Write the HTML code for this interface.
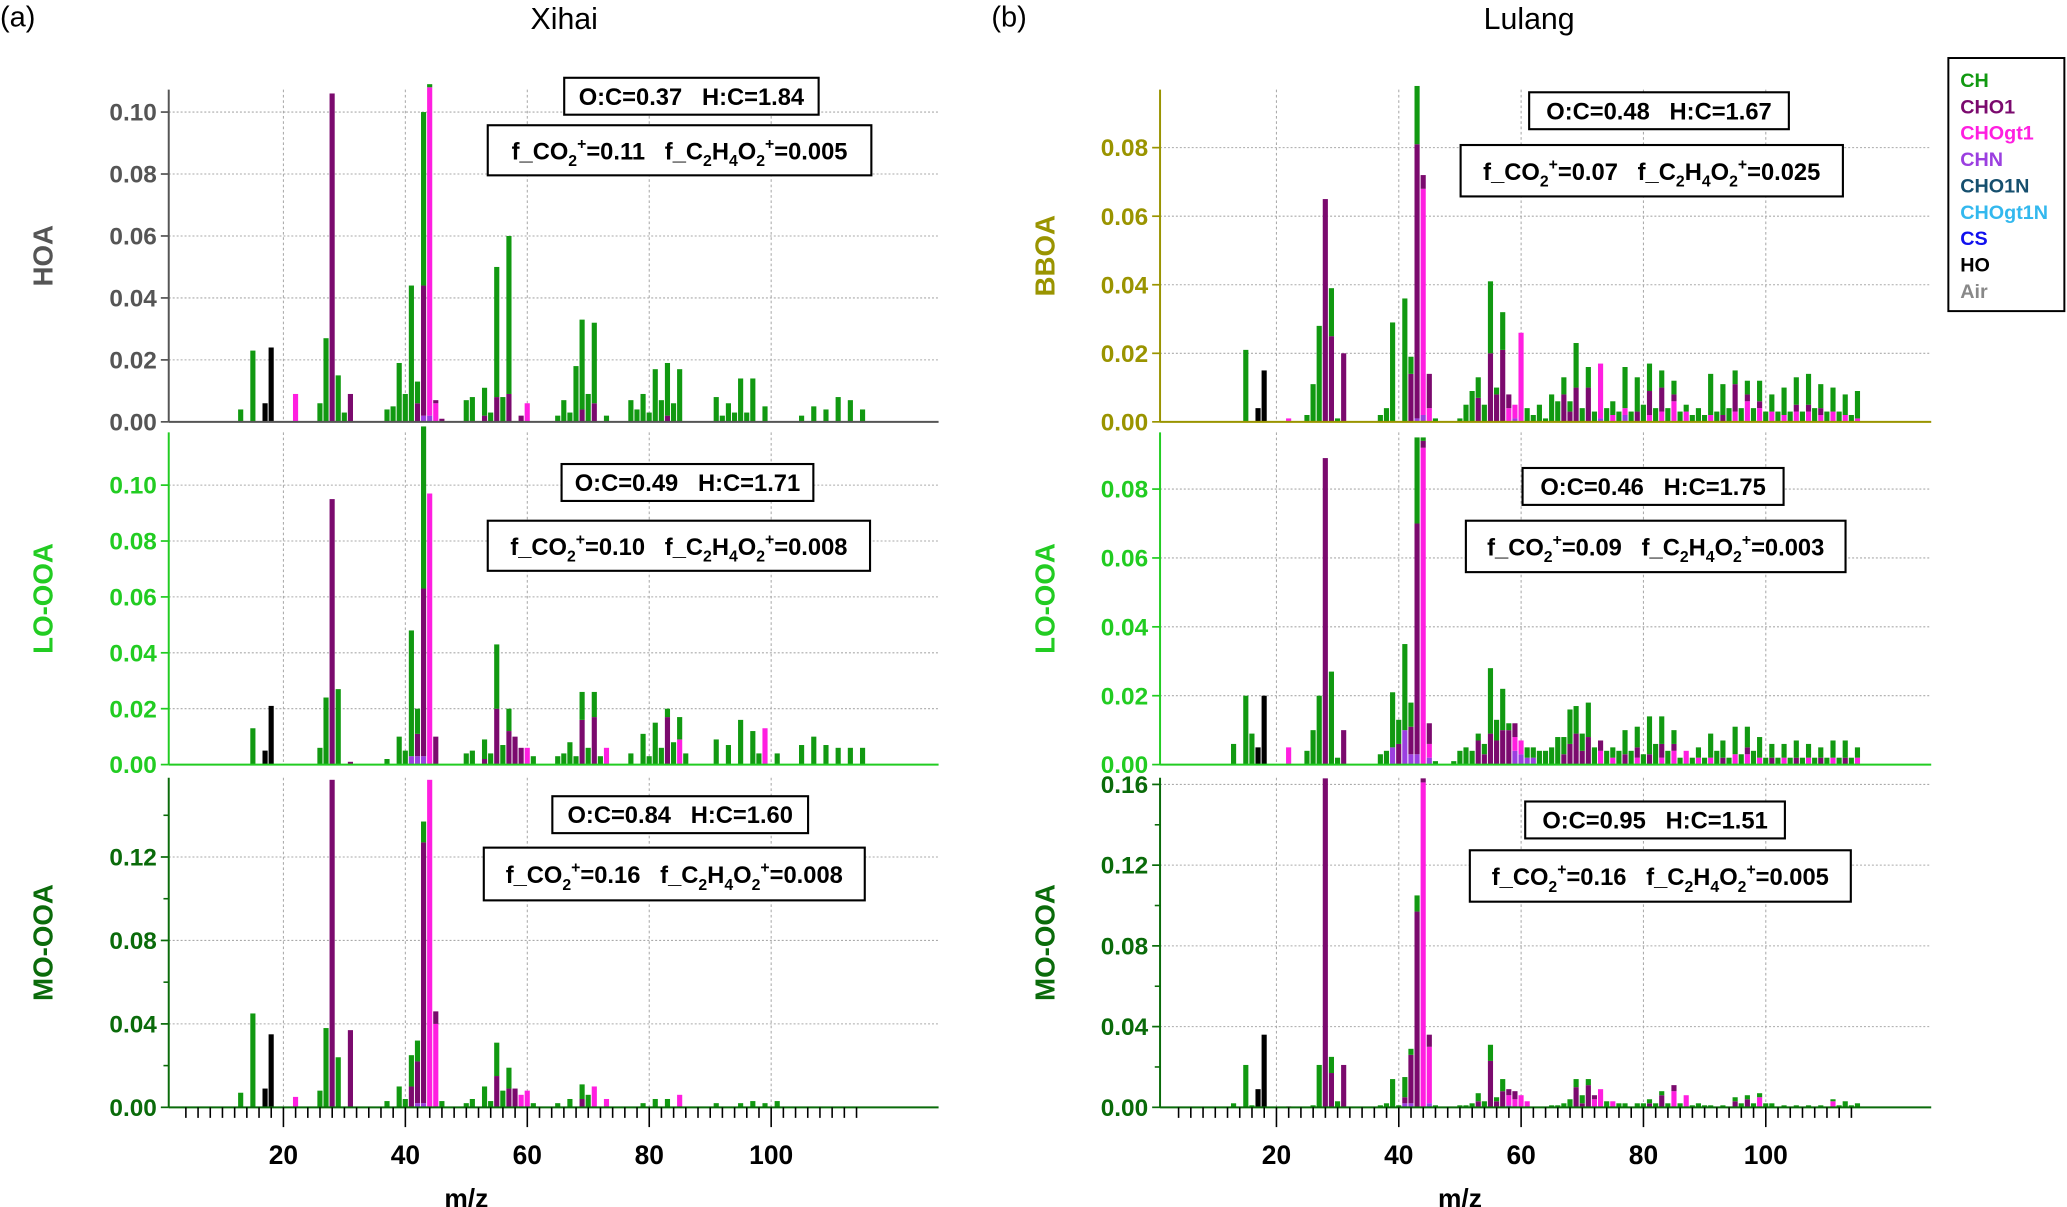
<!DOCTYPE html>
<html><head><meta charset="utf-8"><style>
html,body{margin:0;padding:0;background:#fff;}
svg{display:block;font-family:"Liberation Sans",Arial,sans-serif;}
.pre{white-space:pre;}
</style></head><body>
<svg id="fig" width="2067" height="1207" viewBox="0 0 1568 915.6" xmlns="http://www.w3.org/2000/svg">
<text x="0" y="20" font-size="22">(a)</text>
<text x="428" y="22" font-size="23" text-anchor="middle">Xihai</text>
<text x="752" y="20" font-size="22">(b)</text>
<text x="1160" y="22" font-size="23" text-anchor="middle">Lulang</text>
<g id="plots"></g>
<g>
<rect x="1478" y="44" width="88" height="192" fill="#fff" stroke="#000" stroke-width="1.5"/>
<text x="1487" y="66" font-size="15" font-weight="bold" fill="#119911">CH</text>
<text x="1487" y="86" font-size="15" font-weight="bold" fill="#7b0a6e">CHO1</text>
<text x="1487" y="106" font-size="15" font-weight="bold" fill="#ff1fe0">CHOgt1</text>
<text x="1487" y="126" font-size="15" font-weight="bold" fill="#9b3fe0">CHN</text>
<text x="1487" y="146" font-size="15" font-weight="bold" fill="#164f6e">CHO1N</text>
<text x="1487" y="166" font-size="15" font-weight="bold" fill="#33b8ee">CHOgt1N</text>
<text x="1487" y="186" font-size="15" font-weight="bold" fill="#1010ee">CS</text>
<text x="1487" y="206" font-size="15" font-weight="bold" fill="#000">HO</text>
<text x="1487" y="226" font-size="15" font-weight="bold" fill="#888">Air</text>
</g>
</svg>
<script>
// ---- Data: [m/z, fraction] per family ----
const xhHOA_CH=[[13,.004],[15,.023],[26,.006],[27,.027],[29,.015],[30,.003],[37,.004],[38,.005],[39,.019],[40,.009],[41,.044],[42,.007],[43,.056],[44,.001],[50,.007],[51,.008],[53,.009],[54,.003],[55,.042],[56,.008],[57,.051],[65,.002],[66,.007],[67,.003],[68,.018],[69,.029],[70,.009],[71,.026],[73,.002],[77,.007],[78,.004],[79,.009],[80,.003],[81,.017],[82,.007],[83,.017],[84,.006],[85,.017],[91,.008],[92,.002],[93,.006],[94,.003],[95,.014],[96,.003],[97,.014],[99,.005],[105,.002],[107,.005],[109,.004],[111,.008],[113,.007],[115,.004]];
const xhHOA_CHO1=[[28,.106],[31,.009],[42,.006],[43,.042],[45,.001],[46,.001],[53,.002],[55,.008],[57,.009],[59,.002],[69,.004],[71,.006],[83,.002]];
const xhHOA_CHOgt1=[[22,.009],[44,.106],[45,.006],[60,.006]];
const xhHOA_CHN=[[43,.002],[44,.002]];
const xhHOA_HO=[[17,.006],[18,.024]];

const xhLO_CH=[[15,.013],[26,.006],[27,.024],[29,.027],[37,.002],[39,.01],[40,.005],[41,.045],[42,.009],[43,.058],[50,.004],[51,.005],[53,.007],[54,.004],[55,.023],[56,.007],[57,.008],[61,.003],[65,.003],[66,.004],[67,.008],[68,.003],[69,.01],[70,.006],[71,.009],[72,.003],[77,.004],[79,.011],[80,.003],[81,.015],[82,.006],[83,.003],[84,.008],[85,.008],[86,.004],[91,.009],[93,.007],[95,.016],[97,.012],[98,.004],[101,.004],[105,.007],[107,.01],[109,.007],[111,.006],[113,.006],[115,.006]];
const xhLO_CHO1=[[28,.095],[31,.001],[42,.008],[43,.06],[45,.01],[53,.002],[55,.02],[57,.012],[58,.01],[59,.006],[69,.016],[71,.017],[83,.017]];
const xhLO_CHOgt1=[[44,.097],[60,.006],[73,.006],[85,.009],[99,.013]];
const xhLO_CHN=[[41,.003],[42,.003],[43,.003]];
const xhLO_HO=[[17,.005],[18,.021]];

const xhMO_CH=[[13,.007],[15,.045],[26,.008],[27,.038],[29,.024],[37,.003],[39,.01],[40,.004],[41,.015],[42,.01],[43,.01],[46,.003],[50,.002],[51,.004],[53,.01],[54,.003],[55,.016],[56,.008],[57,.01],[61,.002],[65,.002],[67,.004],[69,.007],[70,.006],[79,.002],[81,.004],[83,.004],[91,.002],[95,.002],[97,.003],[99,.002],[101,.003]];
const xhMO_CHO1=[[28,.157],[31,.037],[41,.01],[42,.02],[43,.125],[45,.006],[55,.015],[57,.009],[58,.009],[69,.004]];
const xhMO_CHOgt1=[[22,.005],[44,.157],[45,.04],[59,.006],[60,.008],[71,.01],[73,.004],[85,.006]];
const xhMO_CHN=[[42,.002],[43,.002]];
const xhMO_HO=[[17,.009],[18,.035]];

const luBB_CH=[[15,.021],[25,.002],[26,.011],[27,.028],[29,.014],[30,.001],[37,.002],[38,.004],[39,.029],[41,.036],[42,.005],[43,.017],[46,.001],[50,.001],[51,.005],[52,.009],[53,.006],[54,.005],[55,.021],[56,.002],[57,.011],[61,.004],[62,.002],[63,.005],[64,.001],[65,.008],[66,.006],[67,.005],[68,.003],[69,.013],[70,.004],[71,.006],[72,.003],[74,.004],[75,.004],[76,.003],[77,.012],[78,.003],[79,.01],[80,.005],[81,.008],[82,.004],[83,.005],[84,.004],[85,.004],[86,.003],[87,.002],[88,.002],[89,.004],[90,.002],[91,.012],[92,.003],[93,.009],[94,.004],[95,.004],[96,.004],[97,.004],[98,.004],[99,.006],[100,.003],[101,.005],[102,.003],[103,.008],[104,.003],[105,.008],[106,.003],[107,.009],[108,.004],[109,.007],[110,.003],[111,.007],[112,.003],[113,.006],[114,.002],[115,.008]];
const luBB_CHO1=[[28,.065],[29,.025],[31,.02],[42,.014],[43,.08],[44,.004],[45,.01],[53,.007],[55,.02],[56,.008],[57,.021],[58,.004],[67,.008],[68,.003],[69,.01],[71,.01],[79,.003],[81,.007],[83,.007],[85,.002],[93,.002],[95,.008],[97,.002],[99,.002],[105,.002],[107,.002],[109,.002]];
const luBB_CHOgt1=[[22,.001],[44,.066],[45,.004],[58,.004],[59,.004],[60,.026],[73,.016],[75,.002],[77,.002],[81,.002],[83,.003],[85,.006],[87,.003],[91,.002],[95,.003],[97,.006],[99,.004],[101,.003],[103,.002],[105,.003],[107,.003],[109,.002],[111,.003],[113,.002],[115,.001]];
const luBB_CHN=[[43,.001],[44,.002],[59,.001],[73,.001],[77,.002]];
const luBB_HO=[[17,.004],[18,.015]];

const luLO_CH=[[13,.006],[15,.02],[16,.009],[25,.004],[26,.01],[27,.02],[29,.027],[30,.002],[37,.003],[38,.004],[39,.016],[40,.007],[41,.025],[42,.007],[43,.025],[44,.001],[46,.001],[49,.001],[50,.004],[51,.005],[52,.004],[53,.002],[54,.003],[55,.019],[56,.006],[57,.012],[58,.002],[61,.003],[62,.003],[63,.004],[64,.004],[65,.005],[66,.008],[67,.005],[68,.01],[69,.008],[70,.005],[71,.01],[72,.005],[74,.004],[75,.003],[76,.004],[77,.007],[78,.004],[79,.006],[80,.003],[81,.011],[82,.006],[83,.008],[84,.004],[85,.004],[86,.002],[88,.002],[89,.003],[90,.002],[91,.007],[92,.004],[93,.005],[94,.002],[95,.008],[96,.003],[97,.006],[98,.004],[99,.006],[100,.002],[101,.004],[102,.002],[103,.004],[104,.002],[105,.005],[106,.002],[107,.004],[108,.002],[109,.003],[110,.002],[111,.005],[112,.002],[113,.005],[114,.002],[115,.003]];
const luLO_CHO1=[[28,.089],[31,.01],[40,.006],[42,.008],[43,.067],[44,.002],[45,.006],[53,.007],[54,.003],[55,.009],[56,.007],[57,.01],[58,.01],[59,.004],[67,.003],[68,.006],[69,.009],[70,.004],[71,.008],[73,.003],[77,.003],[79,.003],[81,.003],[83,.004],[85,.002],[93,.002],[97,.002],[101,.002],[105,.002],[109,.002],[113,.002]];
const luLO_CHOgt1=[[22,.005],[44,.092],[45,.004],[59,.004],[60,.004],[73,.004],[75,.002],[79,.002],[83,.002],[85,.004],[87,.004],[89,.002],[91,.002],[95,.003],[97,.003],[99,.002],[103,.002],[107,.002],[111,.002],[115,.002]];
const luLO_CHN=[[39,.005],[41,.01],[42,.003],[43,.003],[45,.002],[59,.004],[60,.003],[61,.002],[62,.002]];
const luLO_HO=[[17,.005],[18,.02]];

const luMO_CH=[[13,.002],[15,.021],[16,.001],[26,.001],[27,.021],[29,.008],[30,.003],[37,.001],[38,.002],[39,.014],[40,.001],[41,.01],[42,.003],[43,.008],[46,.001],[50,.001],[51,.001],[52,.002],[53,.004],[54,.003],[55,.008],[56,.002],[57,.006],[65,.001],[66,.001],[67,.002],[68,.004],[69,.004],[70,.004],[71,.003],[74,.003],[76,.002],[77,.002],[79,.002],[80,.002],[81,.002],[82,.002],[83,.002],[84,.002],[86,.002],[88,.001],[89,.002],[90,.001],[91,.001],[93,.001],[95,.002],[96,.002],[97,.002],[98,.002],[99,.002],[100,.002],[101,.002],[103,.001],[105,.001],[107,.001],[109,.001],[111,.001],[112,.001],[113,.003],[114,.001],[115,.002]];
const luMO_CHO1=[[28,.163],[29,.017],[31,.021],[41,.003],[42,.024],[43,.097],[44,.002],[45,.006],[53,.003],[55,.023],[56,.003],[57,.008],[58,.003],[59,.004],[69,.01],[70,.002],[71,.011],[72,.002],[81,.002],[83,.006],[85,.003],[95,.003],[97,.004]];
const luMO_CHOgt1=[[22,.0005],[44,.161],[45,.028],[58,.005],[59,.004],[60,.006],[61,.003],[72,.004],[73,.009],[75,.003],[85,.008],[87,.006],[99,.005],[111,.003]];
const luMO_CHN=[[41,.002],[42,.002],[45,.002],[58,.001]];
const luMO_HO=[[17,.009],[18,.036]];

const colors={CH:"#119911",CHO1:"#7b0a6e",CHOgt1:"#ff1fe0",CHN:"#9b3fe0",HO:"#000000"};
const order=["CHN","CHOgt1","CHO1","CH","HO"];
const xTickLabels=[20,40,60,80,100];

const NS="http://www.w3.org/2000/svg";
const root=document.getElementById("plots");
function mk(tag,attrs,parent){const e=document.createElementNS(NS,tag);for(const k in attrs)e.setAttribute(k,attrs[k]);(parent||root).appendChild(e);return e;}

const panels=[
 {id:"xihai-hoa",title:"HOA",col:"#555555",x0:128,x1:712,mz0:122.5,mzs:4.625,zero:320,top:68,ppu:2350,ticks:[0,.02,.04,.06,.08,.10],minor:[],series:{CH:xhHOA_CH,CHO1:xhHOA_CHO1,CHOgt1:xhHOA_CHOgt1,CHN:xhHOA_CHN,HO:xhHOA_HO},box1:[428,59,193,28,"O:C=0.37   H:C=1.84"],box2:[370,95,291,38,"0.11","0.005"]},
 {id:"xihai-lo-ooa",title:"LO-OOA",col:"#22cc22",x0:128,x1:712,mz0:122.5,mzs:4.625,zero:580,top:328,ppu:2120,ticks:[0,.02,.04,.06,.08,.10],minor:[],series:{CH:xhLO_CH,CHO1:xhLO_CHO1,CHOgt1:xhLO_CHOgt1,CHN:xhLO_CHN,HO:xhLO_HO},box1:[426,352,191,28,"O:C=0.49   H:C=1.71"],box2:[370,395,290,38,"0.10","0.008"]},
 {id:"xihai-mo-ooa",title:"MO-OOA",col:"#0a6b0a",x0:128,x1:712,mz0:122.5,mzs:4.625,zero:840,top:590,ppu:1582.5,ticks:[0,.04,.08,.12],minor:[.02,.06,.10,.14],series:{CH:xhMO_CH,CHO1:xhMO_CHO1,CHOgt1:xhMO_CHOgt1,CHN:xhMO_CHN,HO:xhMO_HO},box1:[419,604,194,28,"O:C=0.84   H:C=1.60"],box2:[367,643,289,40,"0.16","0.008"],xaxis:true},
 {id:"lulang-bboa",title:"BBOA",col:"#9a9400",x0:880,x1:1465,mz0:875.5,mzs:4.64,zero:320,top:68,ppu:2600,ticks:[0,.02,.04,.06,.08],minor:[],series:{CH:luBB_CH,CHO1:luBB_CHO1,CHOgt1:luBB_CHOgt1,CHN:luBB_CHN,HO:luBB_HO},box1:[1160,70,197,28,"O:C=0.48   H:C=1.67"],box2:[1108,110,290,39,"0.07","0.025"]},
 {id:"lulang-lo-ooa",title:"LO-OOA",col:"#22cc22",x0:880,x1:1465,mz0:875.5,mzs:4.64,zero:580,top:328,ppu:2612.5,ticks:[0,.02,.04,.06,.08],minor:[],series:{CH:luLO_CH,CHO1:luLO_CHO1,CHOgt1:luLO_CHOgt1,CHN:luLO_CHN,HO:luLO_HO},box1:[1155,355,198,28,"O:C=0.46   H:C=1.75"],box2:[1112,395,288,39,"0.09","0.003"]},
 {id:"lulang-mo-ooa",title:"MO-OOA",col:"#0a6b0a",x0:880,x1:1465,mz0:875.5,mzs:4.64,zero:840,top:590,ppu:1531,ticks:[0,.04,.08,.12,.16],minor:[.02,.06,.10,.14],series:{CH:luMO_CH,CHO1:luMO_CHO1,CHOgt1:luMO_CHOgt1,CHN:luMO_CHN,HO:luMO_HO},box1:[1157,608,197,28,"O:C=0.95   H:C=1.51"],box2:[1115,645,289,39,"0.16","0.005"],xaxis:true}
];

panels.forEach(p=>{
 const g=mk("g",{});
 
 
 const X=m=>p.mz0+p.mzs*m, Y=v=>p.zero-v*p.ppu;
 xTickLabels.forEach(t=>{const l=mk("line",{x1:X(t),x2:X(t),y1:p.top,y2:p.zero,stroke:"#aaa","stroke-width":0.8,"stroke-dasharray":"2,2"},g);
  
  });
 p.ticks.forEach(t=>{
  if(t>0){const l=mk("line",{x1:p.x0,x2:p.x1,y1:Y(t),y2:Y(t),stroke:"#aaa","stroke-width":0.8,"stroke-dasharray":"1.5,1.5"},g);
   
   }
  mk("line",{x1:p.x0-6,x2:p.x0,y1:Y(t),y2:Y(t),stroke:p.col,"stroke-width":1.3},g);
  const tx=mk("text",{x:p.x0-9,y:Y(t)+6.5,"font-size":18.5,"font-weight":"bold",fill:p.col,"text-anchor":"end"},g);
  tx.textContent=t.toFixed(2);
  
  
 });
 p.minor.forEach(t=>{mk("line",{x1:p.x0-4,x2:p.x0,y1:Y(t),y2:Y(t),stroke:p.col,"stroke-width":1.2},g);});
 const stack={};
 order.forEach(k=>{
  (p.series[k]||[]).forEach(([m,v])=>{
   const base=stack[m]||0;
   const r=mk("rect",{x:X(m)-2,y:Y(base+v),width:3.9,height:Math.max(v*p.ppu,0.4),fill:colors[k]},g);
   
   
   stack[m]=base+v;
  });
 });
 const ya=mk("line",{x1:p.x0,x2:p.x0,y1:p.top,y2:p.zero,stroke:p.col,"stroke-width":1.5},g);
 
 
 const xa=mk("line",{x1:p.x0,x2:p.x1,y1:p.zero,y2:p.zero,stroke:p.col,"stroke-width":1.5},g);
 
 
 const yt=mk("text",{x:0,y:0,"font-size":21,"font-weight":"bold",fill:p.col,"text-anchor":"middle",transform:`translate(${p.x0<500?40:800},${(p.top+p.zero)/2}) rotate(-90)`},g);
 yt.textContent=p.title;
 
 
 const [bx,by,bw,bh,txt]=p.box1;
 const b1=mk("g",{},g);
 
 
 mk("rect",{x:bx,y:by,width:bw,height:bh,fill:"#fff",stroke:"#000","stroke-width":1.6},b1);
 const t1=mk("text",{x:bx+bw/2,y:by+bh/2+6.5,"font-size":18,"font-weight":"bold","text-anchor":"middle",class:"pre"},b1);
 t1.textContent=txt;
 const [cx,cy,cw,ch,f1,f2]=p.box2;
 const b2=mk("g",{},g);
 
 
 mk("rect",{x:cx,y:cy,width:cw,height:ch,fill:"#fff",stroke:"#000","stroke-width":1.6},b2);
 const t2=mk("text",{x:cx+cw/2,y:cy+ch/2+7,"font-size":18,"font-weight":"bold","text-anchor":"middle",class:"pre"},b2);
 t2.innerHTML=`f_CO<tspan font-size="12" dy="5">2</tspan><tspan font-size="12" dy="-13">+</tspan><tspan dy="8">=${f1}   f_C</tspan><tspan font-size="12" dy="5">2</tspan><tspan dy="-5">H</tspan><tspan font-size="12" dy="5">4</tspan><tspan dy="-5">O</tspan><tspan font-size="12" dy="5">2</tspan><tspan font-size="12" dy="-13">+</tspan><tspan dy="8">=${f2}</tspan>`;
 if(p.xaxis){
  for(let m=4;m<=114;m+=2){
   const major=m%20===0;
   mk("line",{x1:X(m),x2:X(m),y1:p.zero,y2:p.zero+(major?15:8),stroke:"#000","stroke-width":1.2},g);
  }
  xTickLabels.forEach(t=>{
   const tx=mk("text",{x:X(t),y:p.zero+43,"font-size":20,"font-weight":"bold","text-anchor":"middle"},g);
   tx.textContent=t;
   
   
  });
  const xt=mk("text",{x:X(50),y:p.zero+76,"font-size":20,"font-weight":"bold","text-anchor":"middle"},g);
  xt.textContent="m/z";
  
  
 }
});
</script>
</body></html>
